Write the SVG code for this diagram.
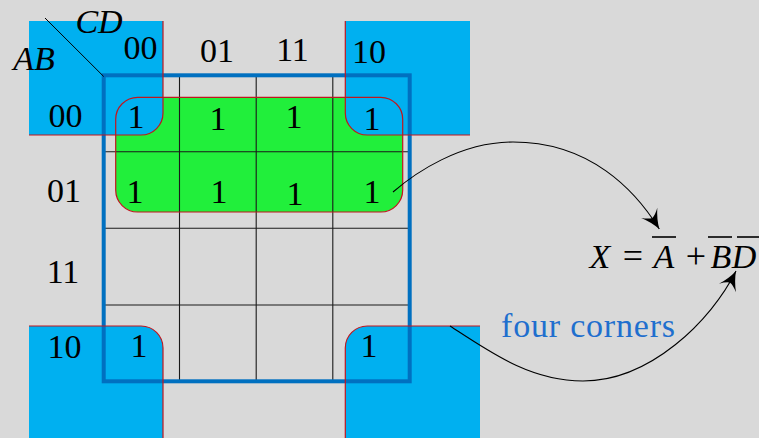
<svg xmlns="http://www.w3.org/2000/svg" width="759" height="438" viewBox="0 0 759 438">
<style>
.t{font-family:"Liberation Serif","Times New Roman",serif;font-size:34px;fill:#000;text-anchor:middle}
.m{font-family:"Liberation Serif","Times New Roman",serif;font-size:34px;font-style:italic;fill:#000;text-anchor:middle}
.op{font-family:"Liberation Serif","Times New Roman",serif;font-size:36px;fill:#000;text-anchor:middle}
.bl{fill:#00b0f0}
.rs{fill:none;stroke:#c0161e;stroke-width:1.2}
.grid{stroke:#1a1a1a;stroke-width:1.1}
.arr{fill:none;stroke:#000;stroke-width:1.1}
.ov{stroke:#000;stroke-width:1.6}
</style>
<defs>
<marker id="stealth" markerUnits="userSpaceOnUse" viewBox="-21 -11 22 22" refX="0" refY="0" markerWidth="22" markerHeight="22" orient="auto" overflow="visible">
<path d="M0,0 Q-10,-3 -19,-9.5 Q-14,-4 -13,0 Q-14,4 -19,9.5 Q-10,3 0,0 Z" fill="#000"/>
</marker>
</defs>
<rect width="759" height="438" fill="#d9d9d9"/>
<g id="group-green">
<rect x="115.7" y="97.3" width="287" height="114.7" rx="22" fill="#21ef3b"/>
</g>
<g id="group-corners">
<path class="bl" d="M29,21 H163 V113 A22,22 0 0 1 141,135 H29 Z"/>
<path class="bl" d="M345.3,21 H470 V135 H367.3 A22,22 0 0 1 345.3,113 Z"/>
<path class="bl" d="M29,326 H141 A22,22 0 0 1 163,348 V438 H29 Z"/>
<path class="bl" d="M367.3,326 H480 V438 H345.3 V348 A22,22 0 0 1 367.3,326 Z"/>
</g>
<g id="grid">
<line class="grid" x1="179.5" y1="75" x2="179.5" y2="381"/>
<line class="grid" x1="256.2" y1="75" x2="256.2" y2="381"/>
<line class="grid" x1="332.8" y1="75" x2="332.8" y2="381"/>
<line class="grid" x1="103" y1="151.7" x2="410" y2="151.7"/>
<line class="grid" x1="103" y1="228.3" x2="410" y2="228.3"/>
<line class="grid" x1="103" y1="305" x2="410" y2="305"/>
<rect x="103.7" y="75.3" width="306" height="306" fill="none" stroke="#0070c0" stroke-width="4"/>
<line x1="45" y1="18" x2="103.7" y2="76.5" stroke="#000" stroke-width="1"/>
</g>
<g id="outlines">
<rect class="rs" x="115.7" y="97.3" width="287" height="114.7" rx="22"/>
<path class="rs" d="M163,21 V113 A22,22 0 0 1 141,135 H29"/>
<path class="rs" d="M345.3,21 V113 A22,22 0 0 0 367.3,135 H470"/>
<path class="rs" d="M29,326 H141 A22,22 0 0 1 163,348 V438"/>
<path class="rs" d="M480,326 H367.3 A22,22 0 0 0 345.3,348 V438"/>
</g>
<g id="labels">
<text class="m" x="99" y="33.3">CD</text>
<text class="m" x="34" y="70">AB</text>
<text class="t" x="140.5" y="59">00</text>
<text class="t" x="217" y="61.5">01</text>
<text class="t" x="292.5" y="61">11</text>
<text class="t" x="369" y="62.5">10</text>
<text class="t" x="65.5" y="127">00</text>
<text class="t" x="64" y="201.5">01</text>
<text class="t" x="63" y="283">11</text>
<text class="t" x="64.5" y="358">10</text>
</g>
<g id="cells">
<text class="t" x="136" y="128">1</text>
<text class="t" x="218" y="130">1</text>
<text class="t" x="294" y="128">1</text>
<text class="t" x="372" y="130">1</text>
<text class="t" x="135" y="202.7">1</text>
<text class="t" x="219" y="202.7">1</text>
<text class="t" x="295" y="205">1</text>
<text class="t" x="372" y="203">1</text>
<text class="t" x="139" y="356.7">1</text>
<text class="t" x="369" y="357">1</text>
</g>
<g id="formula">
<text class="m" x="600" y="268">X</text>
<text class="op" x="633" y="268">=</text>
<text class="m" x="664" y="268">A</text>
<text class="op" x="696" y="268">+</text>
<text class="m" x="721" y="268">B</text>
<text class="m" x="744" y="268">D</text>
<line class="ov" x1="652" y1="237" x2="676" y2="237"/>
<line class="ov" x1="708" y1="237" x2="732" y2="237"/>
<line class="ov" x1="737" y1="237" x2="759" y2="237"/>
</g>
<g id="note">
<text x="501" y="336.7" font-family="Liberation Serif,Times New Roman,serif" font-size="34" fill="#1f6fce" textLength="174" lengthAdjust="spacing">four corners</text>
</g>
<g id="connectors">
<path class="arr" marker-end="url(#stealth)" d="M393,192 C415,173 460,142 513,142 C590,142 635,190 659.3,229"/>
<path class="arr" marker-end="url(#stealth)" d="M450,326 C490,352 530,381 583,381 C650,381 711,321 736,271"/>
</g>
</svg>
